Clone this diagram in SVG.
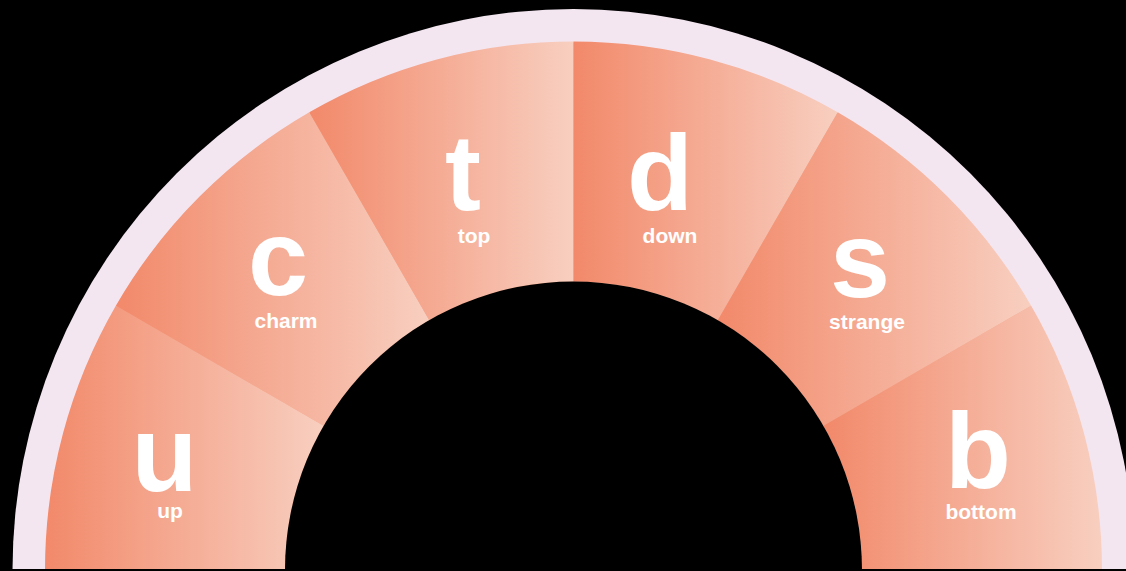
<svg xmlns="http://www.w3.org/2000/svg" width="1126" height="571" viewBox="0 0 1126 571">
  <defs>
    <linearGradient id="seg" x1="0" y1="0" x2="1" y2="0">
      <stop offset="0" stop-color="#F2896A"/>
      <stop offset="1" stop-color="#F8CFC0"/>
    </linearGradient>
    <style>
      .seg { fill: url(#seg); }
      .big { font-family: "Liberation Sans", Arial, sans-serif; font-weight: bold; font-size: 108px; fill: #FFFFFF; text-anchor: middle; }
      .lbl { font-family: "Liberation Sans", Arial, sans-serif; font-weight: bold; font-size: 21px; fill: #FFFFFF; text-anchor: middle; }
    </style>
  </defs>
  <rect x="0" y="0" width="1126" height="571" fill="#000000"/>
  <path id="ring" d="M 12.5 570 A 561 561 0 0 1 1134.5 570 Z" fill="#F4E6F1"/>
  <path id="underlay" d="M 46 570 A 527.5 527.5 0 0 1 1101 570 Z" fill="#F5AE94"/>
  <g id="node-u">
    <path class="seg" d="M 45 570 A 528.5 528.5 0 0 1 115.81 305.75 L 323.65 425.75 A 288.5 288.5 0 0 0 285 570 Z"/>
    <text class="big" x="164.5" y="491">u</text>
    <text class="lbl" x="170" y="518">up</text>
  </g>
  <g id="node-c">
    <path class="seg" d="M 115.81 305.75 A 528.5 528.5 0 0 1 309.25 112.31 L 429.25 320.15 A 288.5 288.5 0 0 0 323.65 425.75 Z"/>
    <text class="big" x="278" y="295">c</text>
    <text class="lbl" x="286" y="328">charm</text>
  </g>
  <g id="node-t">
    <path class="seg" d="M 309.25 112.31 A 528.5 528.5 0 0 1 573.5 41.5 L 573.5 281.5 A 288.5 288.5 0 0 0 429.25 320.15 Z"/>
    <text class="big" x="463" y="210">t</text>
    <text class="lbl" x="474" y="243">top</text>
  </g>
  <g id="node-d">
    <path class="seg" d="M 573.5 41.5 A 528.5 528.5 0 0 1 837.75 112.31 L 717.75 320.15 A 288.5 288.5 0 0 0 573.5 281.5 Z"/>
    <text class="big" x="660" y="210">d</text>
    <text class="lbl" x="670" y="243">down</text>
  </g>
  <g id="node-s">
    <path class="seg" d="M 837.75 112.31 A 528.5 528.5 0 0 1 1031.19 305.75 L 823.35 425.75 A 288.5 288.5 0 0 0 717.75 320.15 Z"/>
    <text class="big" x="860" y="297">s</text>
    <text class="lbl" x="867" y="329">strange</text>
  </g>
  <g id="node-b">
    <path class="seg" d="M 1031.19 305.75 A 528.5 528.5 0 0 1 1102 570 L 862 570 A 288.5 288.5 0 0 0 823.35 425.75 Z"/>
    <text class="big" x="978" y="488">b</text>
    <text class="lbl" x="981" y="519">bottom</text>
  </g>
  <path id="hole" d="M 285 570 A 288.5 288.5 0 0 1 862 570 Z" fill="#000000"/>
  <g id="connectors"></g>
  <rect x="0" y="569" width="1126" height="2" fill="#000000"/>
</svg>
